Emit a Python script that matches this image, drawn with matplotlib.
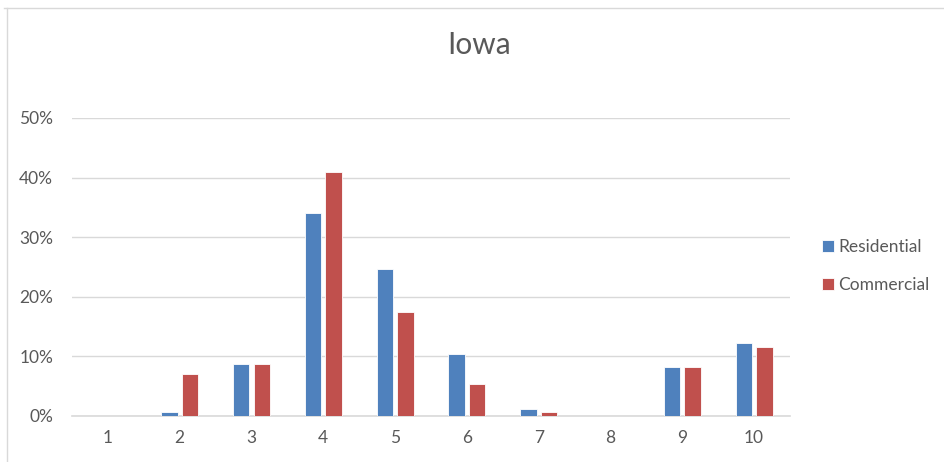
import numpy as np
import matplotlib
matplotlib.use("Agg")
import matplotlib.pyplot as plt
from matplotlib.lines import Line2D
from matplotlib.ticker import PercentFormatter

# data (fractions)
categories = ["1", "2", "3", "4", "5", "6", "7", "8", "9", "10"]
residential = [0.0, 0.0055, 0.087, 0.340, 0.246, 0.104, 0.012, 0.0, 0.081, 0.122]
commercial = [0.0, 0.070, 0.087, 0.409, 0.175, 0.053, 0.0065, 0.0, 0.081, 0.116]
series_names = ["Residential", "Commercial"]
title = "Iowa"

plt.rcParams['font.family'] = ['Lato', 'DejaVu Sans']

blue = '#4F81BD'
red = '#C0504D'
text_col = '#595959'
grid_col = '#D9D9D9'

fig = plt.figure(figsize=(9.45, 4.62), dpi=100)
ax = fig.add_axes([72/945, 1-415.7/462, (790-72)/945, (415.7-118)/462])

x = np.arange(len(categories))
w = 0.23
off = 0.143
ax.bar(x - off, residential, w, color=blue, edgecolor='white', linewidth=0.6,
       label=series_names[0], zorder=3)
ax.bar(x + off, commercial, w, color=red, edgecolor='white', linewidth=0.6,
       label=series_names[1], zorder=3)

ax.set_xlim(-0.5, len(categories) - 0.5)
ax.set_ylim(0, 0.5)
ax.set_yticks(np.arange(0, 0.51, 0.1))
ax.yaxis.set_major_formatter(PercentFormatter(1.0, decimals=0))
ax.set_xticks(x)
ax.set_xticklabels(categories)

ax.grid(axis='y', color=grid_col, linewidth=1, zorder=0)
for s in ['top', 'right', 'left']:
    ax.spines[s].set_visible(False)
ax.spines['bottom'].set_color(grid_col)
ax.spines['bottom'].set_linewidth(1.2)
ax.tick_params(axis='both', length=0, labelsize=12.5, colors=text_col)
ax.tick_params(axis='y', pad=13.5)
ax.tick_params(axis='x', pad=10)

fig.text(479/945, 1-45/462, title, ha='center', va='center', fontsize=21.5, color=text_col)

fig.legend(loc='center left', bbox_to_anchor=(822/945, 1-266/462), frameon=False,
           fontsize=12.5, labelcolor=text_col, handlelength=0.7, handleheight=0.7,
           handletextpad=0.25, labelspacing=1.25, borderpad=0, borderaxespad=0)

# chart frame (only top and left edges visible)
fig.add_artist(Line2D([4/945, 1], [1-8/462, 1-8/462], color='#D9D9D9', linewidth=1,
                      transform=fig.transFigure))
fig.add_artist(Line2D([7/945, 7/945], [0, 1-8/462], color='#D9D9D9', linewidth=1,
                      transform=fig.transFigure))

plt.savefig('out.png', dpi=100)
